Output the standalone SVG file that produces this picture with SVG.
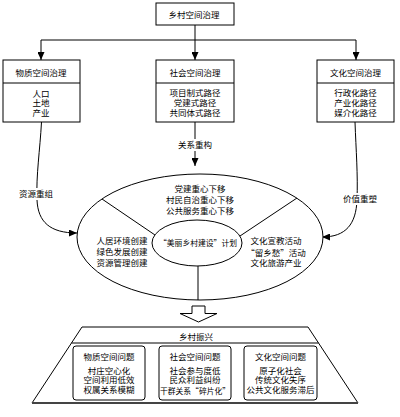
<svg xmlns="http://www.w3.org/2000/svg" width="400" height="417" viewBox="0 0 400 417">
<defs>
<style>
text{font-family:"Liberation Serif","Noto Sans CJK SC",serif;font-size:8.5px;fill:#000;text-anchor:middle;dominant-baseline:central}
text.q{font-family:"Noto Sans CJK SC","Liberation Serif",sans-serif}
.box{fill:#fff;stroke:#000;stroke-width:1}
.ln{fill:none;stroke:#000;stroke-width:1}
.bg{fill:#fff;stroke:none}
</style>
<marker id="ah" markerUnits="userSpaceOnUse" markerWidth="8" markerHeight="7" refX="8" refY="3.5" orient="auto">
<path d="M0,0 L8,3.5 L0,7 z" fill="#000"/>
</marker>
</defs>
<rect width="400" height="417" fill="#fff"/>

<g id="connectors">
<path class="ln" d="M195,25 V40 M41,40 H356"/>
<path class="ln" d="M41,40 V60" marker-end="url(#ah)"/>
<path class="ln" d="M195,40 V60" marker-end="url(#ah)"/>
<path class="ln" d="M356,40 V60" marker-end="url(#ah)"/>
<path class="ln" d="M195,122 V166" marker-end="url(#ah)"/>
<path class="ln" d="M41.5,122 C40,150 36,175 37,200 C38,222 50,233 77,233" marker-end="url(#ah)"/>
<path class="ln" d="M355,122 C356,150 358,175 357,200 C356,224 346,237 322,237" marker-end="url(#ah)"/>
<rect class="bg" x="15" y="188" width="42" height="12"/>
<text x="36" y="194">资源重组</text>
<rect class="bg" x="174" y="139" width="42" height="12"/>
<text x="195" y="145">关系重构</text>
<rect class="bg" x="339" y="193" width="42" height="12"/>
<text x="360" y="199">价值重塑</text>
</g>

<g id="top">
<rect class="box" x="156" y="3" width="78" height="22"/>
<text x="194" y="14.5">乡村空间治理</text>
</g>

<g id="material">
<rect class="box" x="3" y="60" width="77" height="62"/>
<line class="ln" x1="3" y1="83" x2="80" y2="83"/>
<text x="41" y="72.5">物质空间治理</text>
<text x="41" y="93.5">人口</text>
<text x="41" y="103">土地</text>
<text x="41" y="112.5">产业</text>
</g>

<g id="social">
<rect class="box" x="156" y="60" width="78" height="62"/>
<line class="ln" x1="156" y1="83" x2="234" y2="83"/>
<text x="195" y="72.5">社会空间治理</text>
<text x="195" y="93">项目制式路径</text>
<text x="195" y="103">党建式路径</text>
<text x="195" y="113">共同体式路径</text>
</g>

<g id="cultural">
<rect class="box" x="317" y="60" width="77" height="62"/>
<line class="ln" x1="317" y1="83" x2="394" y2="83"/>
<text x="355.5" y="72.5">文化空间治理</text>
<text x="355.5" y="93">行政化路径</text>
<text x="355.5" y="103">产业化路径</text>
<text x="355.5" y="113">媒介化路径</text>
</g>

<g id="ellipse">
<ellipse class="box" cx="200" cy="237" rx="123" ry="63"/>
<line class="ln" x1="102" y1="199" x2="155" y2="235"/>
<line class="ln" x1="297" y1="198" x2="240" y2="236"/>
<line class="ln" x1="198" y1="266" x2="198" y2="300"/>
<ellipse class="box" cx="197" cy="243" rx="45" ry="23"/>
<text x="200" y="188.5">党建重心下移</text>
<text x="200" y="199.5">村民自治重心下移</text>
<text x="200" y="210.5">公共服务重心下移</text>
<text x="122" y="241">人居环境创建</text>
<text x="122" y="252">绿色发展创建</text>
<text x="122" y="263">资源管理创建</text>
<text class="q" x="198" y="242" style="font-size:7.8px">“美丽乡村建设”计划</text>
<text x="276" y="241">文化宣教活动</text>
<text class="q" x="276" y="252">“留乡愁”活动</text>
<text x="276" y="263">文化旅游产业</text>
</g>

<g id="arrow">
<polygon class="box" points="192,306 205,306 205,313.5 217,313.5 198.5,322 180,313.5 192,313.5"/>
</g>

<g id="revival">
<polygon class="box" points="82,327 308,327 358,403 32,403"/>
<line x1="32" y1="403" x2="358" y2="403" stroke="#444" stroke-width="1.8"/>
<line class="ln" x1="71.5" y1="343" x2="318.5" y2="343"/>
<text x="196" y="336.5">乡村振兴</text>
</g>

<g id="p1">
<rect class="box" x="73" y="346" width="72" height="54" rx="3"/>
<text x="109" y="356.5">物质空间问题</text>
<text x="109" y="370.5">村庄空心化</text>
<text x="109" y="380">空间利用低效</text>
<text x="109" y="390">权属关系模糊</text>
</g>
<g id="p2">
<rect class="box" x="159" y="346" width="72" height="54" rx="3"/>
<text x="195" y="356.5">社会空间问题</text>
<text x="195" y="370.5">社会参与度低</text>
<text x="195" y="380">民众利益纠纷</text>
<text class="q" x="195" y="390" style="font-size:7.8px">干群关系“碎片化”</text>
</g>
<g id="p3">
<rect class="box" x="244" y="346" width="73" height="54" rx="3"/>
<text x="280.5" y="356.5">文化空间问题</text>
<text x="280.5" y="370.5">原子化社会</text>
<text x="280.5" y="380">传统文化失序</text>
<text x="280.5" y="390">公共文化服务滞后</text>
</g>
</svg>
